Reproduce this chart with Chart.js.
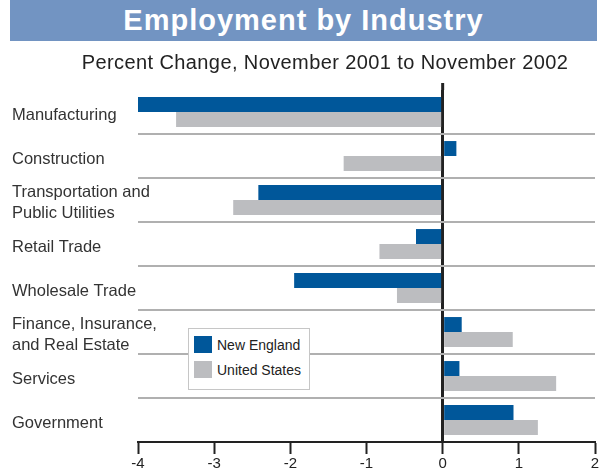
<!DOCTYPE html>
<html>
<head>
<meta charset="utf-8">
<script src="https://cdn.jsdelivr.net/npm/chart.js@4"></script>
<style>
  body { margin: 0; background: #fff; font-family: "Liberation Sans", Arial, sans-serif; }
  #page { position: relative; width: 607px; height: 469px; overflow: hidden; }
  #banner {
    position: absolute; left: 10px; top: 0; width: 587px; height: 41px;
    background: #7294c2; color: #fff; font-weight: bold; font-size: 29px;
    letter-spacing: 1px; text-align: center; line-height: 41px;
  }
  #subtitle {
    position: absolute; left: 0; top: 51px; width: 650px; text-align: center;
    font-size: 20px; color: #222; letter-spacing: 0.4px;
  }
  #wrap { position: absolute; left: 0; top: 0; width: 607px; height: 469px; }
  #legend {
    position: absolute; left: 188px; top: 328px; width: 120px; height: 60px;
    border: 1px solid #c6c6c6; background: #fff; font-size: 14px; color: #222;
  }
  .item { position: absolute; left: 5px; height: 18px; line-height: 18px; white-space: nowrap; }
  .sw { display: inline-block; width: 18px; height: 17px; vertical-align: top; margin-right: 5px; }
</style>
</head>
<body>
<div id="page">
  <div id="wrap"><canvas id="chart"></canvas></div>
  <div id="banner">Employment by Industry</div>
  <div id="subtitle">Percent Change, November 2001 to November 2002</div>
  <div id="legend">
    <div class="item" style="top:7px"><span class="sw" style="background:#00579a"></span>New England</div>
    <div class="item" style="top:32px"><span class="sw" style="background:#bcbdc0"></span>United States</div>
  </div>
</div>
<script>
const industries = [
  ["Manufacturing"],
  ["Construction"],
  ["Transportation and", "Public Utilities"],
  ["Retail Trade"],
  ["Wholesale Trade"],
  ["Finance, Insurance,", "and Real Estate"],
  ["Services"],
  ["Government"]
];
const newEngland = [-4.0, 0.18, -2.42, -0.35, -1.95, 0.25, 0.22, 0.93];
const unitedStates = [-3.5, -1.3, -2.75, -0.83, -0.6, 0.92, 1.49, 1.25];

// zero line pokes a little above the plot area, like the original
const zeroLineTop = {
  id: "zeroLineTop",
  afterDraw(chart) {
    const ctx = chart.ctx;
    const x = chart.scales.x.getPixelForValue(0);
    ctx.save();
    ctx.strokeStyle = "#222";
    ctx.lineWidth = 3;
    ctx.beginPath();
    ctx.moveTo(x, 83);
    ctx.lineTo(x, chart.chartArea.top);
    ctx.stroke();
    ctx.restore();
  }
};

const chart = new Chart(document.getElementById("chart"), {
  type: "bar",
  data: {
    labels: industries,
    datasets: [
      { label: "New England", data: newEngland, backgroundColor: "#00579a",
        barPercentage: 1, categoryPercentage: 0.68 },
      { label: "United States", data: unitedStates, backgroundColor: "#bcbdc0",
        barPercentage: 1, categoryPercentage: 0.68 }
    ]
  },
  options: {
    indexAxis: "y",
    responsive: true,
    maintainAspectRatio: false,
    animation: false,
    layout: { padding: { top: 90, left: 12, right: 12, bottom: 0 } },
    plugins: { legend: { display: false }, tooltip: { enabled: false } },
    scales: {
      x: {
        min: -4,
        max: 2,
        z: 1,
        afterFit: scale => { scale.height = 27; },
        border: { color: "#222", width: 2 },
        grid: {
          color: ctx => ctx.tick && ctx.tick.value === 0 ? "#222" : "rgba(0,0,0,0)",
          lineWidth: ctx => ctx.tick && ctx.tick.value === 0 ? 3 : 1,
          tickColor: "#222",
          tickWidth: 2,
          tickLength: 12
        },
        ticks: {
          stepSize: 1,
          padding: 1,
          color: "#222",
          font: { family: "Liberation Sans", size: 15 }
        }
      },
      y: {
        afterFit: scale => { scale.width = 126; },
        border: { display: false },
        grid: {
          color: ctx => ctx.index === 0 ? "rgba(0,0,0,0)" : "#b0b0b0",
          lineWidth: 2,
          drawTicks: false
        },
        ticks: {
          autoSkip: false,
          mirror: true,
          crossAlign: "near",
          padding: -126,
          labelOffset: 3,
          color: "#333",
          font: { family: "Liberation Sans", size: 16.5, lineHeight: 1.25 }
        }
      }
    }
  },
  plugins: [zeroLineTop]
});
</script>
</body>
</html>
